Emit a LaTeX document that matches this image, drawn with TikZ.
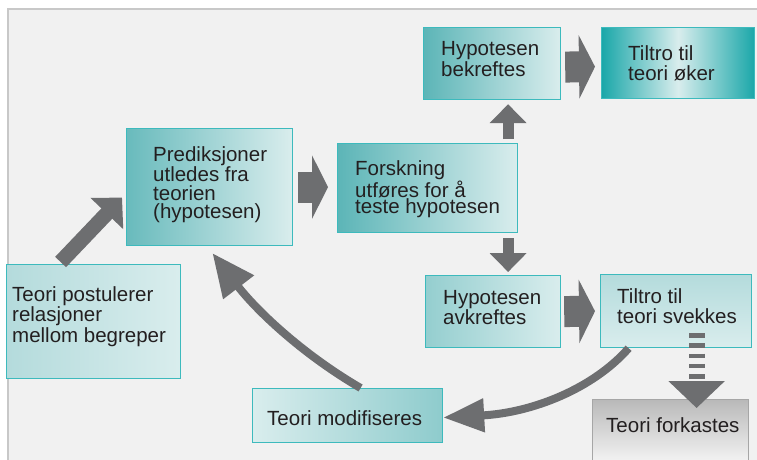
\documentclass[tikz,border=0pt]{standalone}
\usepackage{fontspec}
\setmainfont{Liberation Sans}
\usetikzlibrary{arrows.meta}
\definecolor{bgfill}{HTML}{F1F1F1}
\definecolor{bgedge}{HTML}{C8C8C8}
\definecolor{boxedge}{HTML}{3DBABD}
\definecolor{arrowgray}{HTML}{6D6E70}
\definecolor{txt}{HTML}{231F20}
\definecolor{tealdark}{HTML}{1AA7A9}
\definecolor{tealmid}{HTML}{5CB5B7}
\definecolor{teallight}{HTML}{D9EDED}
\definecolor{tealpale}{HTML}{B4DBDC}
\tikzset{
  box/.style={draw=boxedge, line width=1.2pt, anchor=north west, inner sep=0pt},
  lbl/.style={font=\fontsize{20.5}{#1}\selectfont, text=txt, align=left, inner sep=0pt, anchor=north west},
  lbl/.default=20.5,
  blockarrow/.style={arrowgray, line width=31pt, -{Triangle[length=16pt,width=63pt]}},
  stemarrow/.style={arrowgray, line width=11pt, -{Triangle[length=19pt,width=36pt]}},
  curvearrow/.style={arrowgray, line width=8pt},
}
\begin{document}
\begin{tikzpicture}[x=1pt,y=-1pt]
\useasboundingbox (0,0) rectangle (757,459);
\fill[white] (0,0) rectangle (757,459);
\draw[draw=bgedge, fill=bgfill, line width=2pt] (8,9) rectangle (775,475);

% boxes
\node[box, minimum width=137pt, minimum height=72pt, left color=tealmid, right color=teallight] (hyb) at (423,27) {};
\node[lbl] (hybtext) at (441,41.2) {Hypotesen\\bekreftes};
\node[box, minimum width=153pt, minimum height=71pt, left color=tealdark, right color=tealdark, middle color=teallight] (oker) at (601,27) {};
\node[lbl=20.7] (okertext) at (628,45.2) {Tiltro til\\teori øker};
\node[box, minimum width=166pt, minimum height=117pt, left color=tealmid!90!teallight, right color=teallight] (pred) at (126,128) {};
\node[lbl=18.4] (predtext) at (153,146.5) {Prediksjoner\\utledes fra\\teorien\\(hypotesen)};
\node[box, minimum width=180pt, minimum height=89pt, left color=tealmid, right color=teallight] (fors) at (337,143) {};
\node[lbl=16] (forstext) at (355,160.2) {Forskning\\utføres for å\\teste hypotesen};
\node[box, minimum width=135pt, minimum height=72pt, left color=tealmid!55!teallight, right color=teallight] (avk) at (425,275) {};
\node[lbl] (avktext) at (443,290) {Hypotesen\\avkreftes};
\node[box, minimum width=151pt, minimum height=73pt, top color=tealpale, bottom color=teallight] (svek) at (600,274) {};
\node[lbl] (svektext) at (617,288) {Tiltro til\\teori svekkes};
\node[box, minimum width=174pt, minimum height=114pt, left color=tealpale, right color=teallight] (post) at (6,264) {};
\node[lbl=20.7] (posttext) at (12,286.2) {Teori postulerer\\relasjoner\\mellom begreper};
\node[box, minimum width=190pt, minimum height=54pt, left color=teallight, right color=tealmid!60!teallight] (mod) at (252,388) {};
\node[lbl] (modtext) at (267,410) {Teori modifiseres};
\node[box, draw=gray!70, minimum width=156pt, minimum height=75pt, top color=gray!55, bottom color=white] (fork) at (592,399) {};
\node[lbl] (forktext) at (606,417.5) {Teori forkastes};

% arrows
\draw[blockarrow, shorten <=5pt, shorten >=9pt] (pred.east) -- (pred.east -| fors.west);
\draw[blockarrow, shorten <=4pt, shorten >=6pt] ([yshift=-3.5pt]hyb.east) -- ([yshift=-3.5pt]oker.west);
\draw[blockarrow, shorten <=3pt, shorten >=5pt] (avk.east) -- (svek.west);
\draw[stemarrow, shorten <=4pt, shorten >=4pt] ([xshift=80.5pt]fors.north) -- ([xshift=16pt]hyb.south);
\draw[stemarrow, shorten <=5pt, shorten >=3pt] ([xshift=80.5pt]fors.south) -- ([xshift=15pt]avk.north);
\draw[arrowgray, line width=15pt, -{Triangle[length=22pt,width=44pt]}] ([xshift=-33pt,yshift=2pt]post.north) -- ([xshift=-4pt,yshift=-10.5pt]pred.west);
\draw[curvearrow, -{Triangle[length=41pt,width=32pt]}] ([xshift=-47.5pt]svek.south) .. controls +(-35,40) and +(90,-5) .. ([yshift=-2pt]mod.east);
\draw[curvearrow, -{Triangle[length=43pt,width=37pt]}] ([xshift=13pt]mod.north) .. controls +(-60,-35) and +(43,56) .. ([xshift=86.5pt,yshift=-7pt]pred.south west);
\draw[arrowgray, line width=16pt, dash pattern=on 4.5pt off 5.7pt, -{Triangle[length=27pt,width=55pt]}] ([xshift=20.5pt,yshift=15pt]svek.south) -- ([xshift=26pt,yshift=-9pt]fork.north);
\end{tikzpicture}
\end{document}
